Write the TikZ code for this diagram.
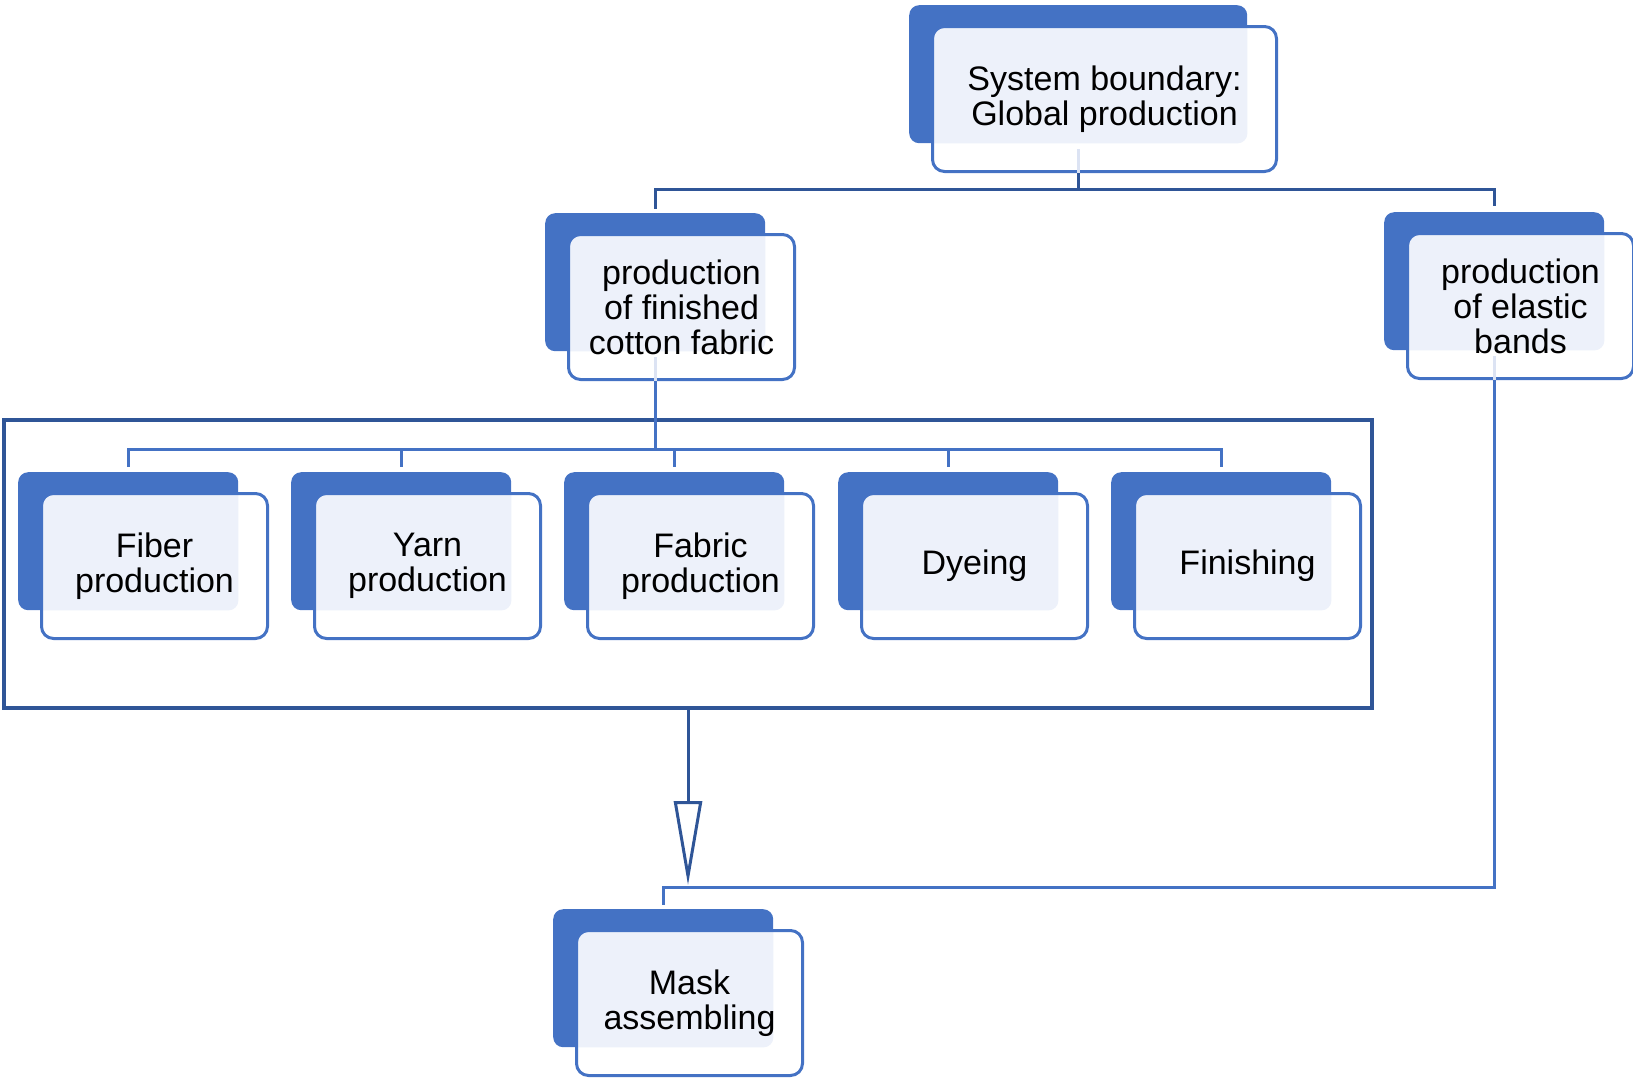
\documentclass[tikz,border=0pt]{standalone}
\usepackage{fontspec}
\setmainfont{Liberation Sans}
\usetikzlibrary{calc,arrows.meta}
\definecolor{boxblue}{HTML}{4472C4}
\definecolor{lineblue}{HTML}{2F5597}
\definecolor{lightfill}{HTML}{EDF1FA}
\definecolor{faintline}{HTML}{DCE3F3}
\tikzset{
  darkbox/.style={fill=boxblue, rounded corners=10pt, minimum height=138pt, inner sep=0pt, anchor=north west},
  whitebox/.style={draw=boxblue, line width=3pt, fill=white, rounded corners=12pt, minimum height=145pt, inner sep=0pt, anchor=north west, align=center, font=\fontsize{34}{35}\selectfont},
  conn/.style={draw=boxblue, line width=3pt},
  conndark/.style={draw=lineblue, line width=3pt},
  faint/.style={draw=faintline, line width=3pt},
  frame/.style={draw=lineblue, line width=3.3pt, minimum width=1368pt, minimum height=288pt, anchor=north west, inner sep=0pt, outer sep=0pt},
}
\newcommand\stackbox[5]{%
  \node[darkbox, minimum width=#4] (#1b) at (#2,#3) {};
  \node[whitebox, minimum width=#4+6, path picture={\fill[lightfill, rounded corners=10pt] (#1b.north west) rectangle (#1b.south east);}] (#1) at (#2+22,#3+20) {#5};
}
\begin{document}
\begin{tikzpicture}[x=1pt,y=-1pt]
\useasboundingbox (0,0) rectangle (1633,1082);
% frame
\node[frame] (frame) at (4,420) {};
% boxes
\stackbox{top}{909}{5}{338}{System boundary:\\Global production}
\stackbox{cotton}{545}{213}{220}{production\\of finished\\cotton fabric}
\stackbox{elastic}{1384}{212}{220}{production\\of elastic\\bands}
\stackbox{fiber}{18}{472}{220}{Fiber\\production}
\stackbox{yarn}{291}{472}{220}{Yarn\\production}
\stackbox{fabric}{564}{472}{220}{Fabric\\production}
\stackbox{dyeing}{838}{472}{220}{Dyeing}
\stackbox{finishing}{1111}{472}{220}{Finishing}
\stackbox{mask}{553}{909}{220}{Mask\\assembling}
% faint connector stubs inside the white boxes
\draw[faint] ([yshift=-6pt]topb.south) -- (topb.south |- top.south);
\draw[faint] ([yshift=-6pt]cottonb.south) -- (cottonb.south |- cotton.south);
\draw[faint] ([yshift=-6pt]elasticb.south) -- (elasticb.south |- elastic.south);
% top connectors
\coordinate (tj) at (1078,189);
\draw[conndark] (topb.south |- top.south) -- (topb.south |- tj);
\draw[conndark, shorten >=4pt] (topb.south |- tj) -| (cottonb.north);
\draw[conndark, shorten >=6pt] (topb.south |- tj) -| (elasticb.north);
% cotton to steps
\coordinate (bj) at (655,449);
\draw[conn] (cottonb.south |- cotton.south) -- (cottonb.south |- bj);
\draw[conn, shorten >=5pt] (cottonb.south |- bj) -| (fiberb.north);
\draw[conn, shorten >=5pt] (cottonb.south |- bj) -| (yarnb.north);
\draw[conn, shorten >=5pt] (cottonb.south |- bj) -| (fabricb.north);
\draw[conn, shorten >=5pt] (cottonb.south |- bj) -| (dyeingb.north);
\draw[conn, shorten >=5pt] (cottonb.south |- bj) -| (finishingb.north);
% arrow to mask
\coordinate (atip) at (688,885);
\draw[conndark, -{Triangle[open, length=84pt, width=28pt]}] (frame.south) -- (frame.south |- atip);
% elastic to mask
\coordinate (mj) at (663,887);
\draw[conn, shorten >=4pt] (elasticb.south |- elastic.south) -- (elasticb.south |- mj) -| (maskb.north);
\end{tikzpicture}
\end{document}
